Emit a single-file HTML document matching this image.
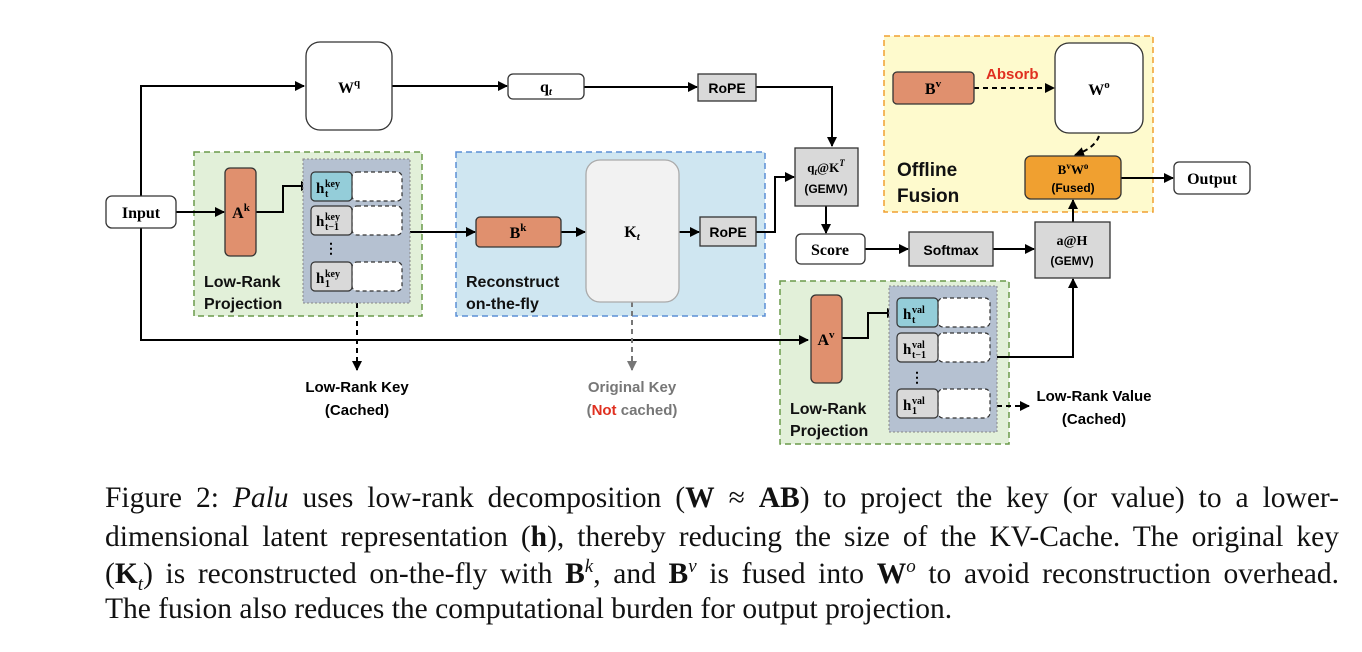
<!DOCTYPE html>
<html><head><meta charset="utf-8"><style>
body{margin:0;width:1362px;height:652px;background:#fff;overflow:hidden;position:relative}
svg{position:absolute;left:0;top:0}
.s{font-family:"Liberation Sans",sans-serif;font-weight:bold}
.r{font-family:"Liberation Serif",serif;font-weight:bold}
.cl{position:absolute;left:105px;width:1234px;font-family:"Liberation Serif",serif;font-size:29.5px;line-height:30px;height:30px;text-align:justify;text-align-last:justify;color:#111;white-space:nowrap}
.cl sup,.cl sub{font-size:19px;line-height:0}
</style></head><body>
<svg width="1362" height="470" viewBox="0 0 1362 470">
<defs>
<marker id="a" markerWidth="10" markerHeight="10" refX="9" refY="5" orient="auto" markerUnits="userSpaceOnUse"><path d="M0,0 L10,5 L0,10z" fill="#000"/></marker>
<marker id="g" markerWidth="10" markerHeight="10" refX="9" refY="5" orient="auto" markerUnits="userSpaceOnUse"><path d="M0,0 L10,5 L0,10z" fill="#777"/></marker>
</defs>
<rect x="194" y="152" width="228" height="164" fill="#e2f0d9" stroke="#6a9a4a" stroke-width="1.5" stroke-dasharray="6,4"/>
<rect x="456" y="152" width="309" height="164" fill="#cfe6f1" stroke="#5b8fd6" stroke-width="1.5" stroke-dasharray="6,4"/>
<rect x="884" y="36" width="269" height="176" fill="#fefacd" stroke="#f0a030" stroke-width="1.5" stroke-dasharray="6,4"/>
<rect x="780" y="281" width="229" height="163" fill="#e2f0d9" stroke="#6a9a4a" stroke-width="1.5" stroke-dasharray="6,4"/>
<g stroke="#000" stroke-width="2" fill="none">
<path d="M141,196 V86 H304" marker-end="url(#a)"/>
<path d="M141,228 V340 H808" marker-end="url(#a)"/>
<path d="M176,212 H224" marker-end="url(#a)"/>
<path d="M392,86 H507" marker-end="url(#a)"/>
<path d="M584,87 H697" marker-end="url(#a)"/>
<path d="M756,87 H832 V146" marker-end="url(#a)"/>
<path d="M256,212 H283 V186 H310" marker-end="url(#a)"/>
<path d="M410,232 H475" marker-end="url(#a)"/>
<path d="M561,232 H585" marker-end="url(#a)"/>
<path d="M679,232 H699" marker-end="url(#a)"/>
<path d="M756,232 H775 V177 H794" marker-end="url(#a)"/>
<path d="M826,206 V233" marker-end="url(#a)"/>
<path d="M865,249 H908" marker-end="url(#a)"/>
<path d="M993,249 H1034" marker-end="url(#a)"/>
<path d="M1073,222 V200" marker-end="url(#a)"/>
<path d="M1121,178 H1173" marker-end="url(#a)"/>
<path d="M842,338 H868 V313 H896" marker-end="url(#a)"/>
<path d="M997,357 H1073 V279" marker-end="url(#a)"/>
</g>
<g stroke="#000" stroke-width="2" fill="none" stroke-dasharray="5,4">
<path d="M974,88 H1054" marker-end="url(#a)"/>
<path d="M1099,136 Q1095,148 1075,155" marker-end="url(#a)"/>
<path d="M357,303 V370" marker-end="url(#a)"/>
<path d="M997,406 H1029" marker-end="url(#a)"/>
</g>
<path d="M632,302 V370" stroke="#777" stroke-width="2" stroke-dasharray="5,4" fill="none" marker-end="url(#g)"/>
<g stroke="#333" stroke-width="1.3">
<rect x="106" y="196" width="70" height="32" rx="6" fill="#fff"/>
<rect x="306" y="42" width="86" height="88" rx="14" fill="#fff"/>
<rect x="508" y="74" width="76" height="25" rx="5" fill="#fff"/>
<rect x="698" y="74" width="58" height="27" fill="#d9d9d9"/>
<rect x="795" y="148" width="63" height="58" fill="#d9d9d9"/>
<rect x="225" y="168" width="31" height="88" rx="5" fill="#e0906e"/>
<rect x="476" y="217" width="85" height="30" rx="4" fill="#e0906e"/>
<rect x="586" y="160" width="93" height="142" rx="14" fill="#f2f2f2" stroke="#aaa"/>
<rect x="700" y="217" width="56" height="29" fill="#d9d9d9"/>
<rect x="796" y="234" width="69" height="30" rx="5" fill="#fff"/>
<rect x="909" y="232" width="84" height="34" fill="#d9d9d9"/>
<rect x="1035" y="222" width="75" height="56" fill="#d9d9d9"/>
<rect x="893" y="72" width="81" height="32" rx="4" fill="#e0906e"/>
<rect x="1055" y="43" width="88" height="90" rx="14" fill="#fff"/>
<rect x="1025" y="156" width="96" height="43" rx="6" fill="#f0a030"/>
<rect x="1174" y="162" width="76" height="32" rx="5" fill="#fff"/>
<rect x="811" y="295" width="31" height="88" rx="5" fill="#e0906e"/>
</g>
<rect x="303" y="159" width="107" height="144" fill="#b5c1d1" stroke="#888" stroke-dasharray="2,2"/>
<rect x="889" y="286" width="108" height="146" fill="#b5c1d1" stroke="#888" stroke-dasharray="2,2"/>
<g stroke="#333" stroke-width="1.2">
<rect x="352" y="172" width="50" height="29" rx="5" fill="#fff" stroke-dasharray="4,3"/>
<rect x="352" y="206" width="50" height="29" rx="5" fill="#fff" stroke-dasharray="4,3"/>
<rect x="352" y="262" width="50" height="29" rx="5" fill="#fff" stroke-dasharray="4,3"/>
<rect x="311" y="172" width="41" height="29" rx="4" fill="#94cdd9"/>
<rect x="311" y="206" width="41" height="29" rx="4" fill="#d9d9d9"/>
<rect x="311" y="262" width="41" height="29" rx="4" fill="#d9d9d9"/>
<rect x="938" y="298" width="52" height="29" rx="5" fill="#fff" stroke-dasharray="4,3"/>
<rect x="938" y="333" width="52" height="29" rx="5" fill="#fff" stroke-dasharray="4,3"/>
<rect x="938" y="389" width="52" height="29" rx="5" fill="#fff" stroke-dasharray="4,3"/>
<rect x="897" y="298" width="41" height="29" rx="4" fill="#94cdd9"/>
<rect x="897" y="333" width="41" height="29" rx="4" fill="#d9d9d9"/>
<rect x="897" y="389" width="41" height="29" rx="4" fill="#d9d9d9"/>
</g>
<text x="331" y="253" class="r" font-size="14" text-anchor="middle">⋮</text>
<text x="917" y="382" class="r" font-size="14" text-anchor="middle">⋮</text>
<g class="r" font-size="16" text-anchor="middle">
<text x="141" y="218">Input</text>
<text x="349" y="93">W<tspan font-size="11" dy="-7">q</tspan></text>
<text x="546" y="92">q<tspan font-size="11" font-style="italic" dy="3">t</tspan></text>
<text x="241" y="218">A<tspan font-size="11" dy="-7">k</tspan></text>
<text x="518" y="238">B<tspan font-size="11" dy="-7">k</tspan></text>
<text x="632" y="237">K<tspan font-size="11" font-style="italic" dy="3">t</tspan></text>
<text x="826" y="172" font-size="13">q<tspan font-size="9" font-style="italic" dy="3">t</tspan><tspan dy="-3">@K</tspan><tspan font-size="9" font-style="italic" dy="-6">T</tspan></text>
<text x="830" y="255">Score</text>
<text x="1072" y="245" font-size="14">a@H</text>
<text x="933" y="94">B<tspan font-size="11" dy="-7">v</tspan></text>
<text x="1099" y="95">W<tspan font-size="11" dy="-7">o</tspan></text>
<text x="1073" y="174" font-size="13">B<tspan font-size="9" dy="-5">v</tspan><tspan dy="5">W</tspan><tspan font-size="9" dy="-5">o</tspan></text>
<text x="1212" y="184">Output</text>
<text x="826" y="345">A<tspan font-size="11" dy="-7">v</tspan></text>
</g>
<g class="r" font-size="15">
<text x="316" y="193">h</text><text x="325" y="187" font-size="10">key</text><text x="325" y="197" font-size="10">t</text>
<text x="316" y="226">h</text><text x="325" y="220" font-size="10">key</text><text x="325" y="230" font-size="10">t−1</text>
<text x="316" y="283">h</text><text x="325" y="277" font-size="10">key</text><text x="325" y="287" font-size="10">1</text>
<text x="903" y="319">h</text><text x="912" y="313" font-size="10">val</text><text x="912" y="323" font-size="10">t</text>
<text x="903" y="354">h</text><text x="912" y="348" font-size="10">val</text><text x="912" y="358" font-size="10">t−1</text>
<text x="903" y="410">h</text><text x="912" y="404" font-size="10">val</text><text x="912" y="414" font-size="10">1</text>
</g>
<g class="s" font-size="14" text-anchor="middle">
<text x="727" y="93">RoPE</text>
<text x="728" y="237">RoPE</text>
<text x="951" y="255">Softmax</text>
<text x="826" y="193" font-size="12">(GEMV)</text>
<text x="1072" y="265" font-size="12">(GEMV)</text>
<text x="1073" y="192" font-size="12">(Fused)</text>
<text x="357" y="392" font-size="15">Low-Rank Key</text>
<text x="357" y="415" font-size="15">(Cached)</text>
<text x="632" y="392" fill="#777" font-size="15">Original Key</text>
<text x="632" y="415" fill="#777" font-size="15">(<tspan fill="#e03020">Not</tspan> cached)</text>
<text x="1094" y="401" font-size="15">Low-Rank Value</text>
<text x="1094" y="424" font-size="15">(Cached)</text>
</g>
<g class="s" font-size="16" fill="#111">
<text x="204" y="287">Low-Rank</text>
<text x="204" y="309">Projection</text>
<text x="466" y="287">Reconstruct</text>
<text x="466" y="309">on-the-fly</text>
<text x="790" y="414">Low-Rank</text>
<text x="790" y="436">Projection</text>
<text x="897" y="176" font-size="19">Offline</text>
<text x="897" y="202" font-size="19">Fusion</text>
<text x="986" y="79" fill="#e03020" font-size="15">Absorb</text>
</g>
</svg>
<div class="cl" style="top:483px">Figure 2: <i>Palu</i> uses low-rank decomposition (<b>W</b> ≈ <b>AB</b>) to project the key (or value) to a lower-</div>
<div class="cl" style="top:522px">dimensional latent representation (<b>h</b>), thereby reducing the size of the KV-Cache. The original key</div>
<div class="cl" style="top:559px">(<b>K</b><sub><i>t</i></sub>) is reconstructed on-the-fly with <b>B</b><sup><i>k</i></sup>, and <b>B</b><sup><i>v</i></sup> is fused into <b>W</b><sup><i>o</i></sup> to avoid reconstruction overhead.</div>
<div class="cl" style="top:594px;text-align-last:left">The fusion also reduces the computational burden for output projection.</div>
</body></html>
